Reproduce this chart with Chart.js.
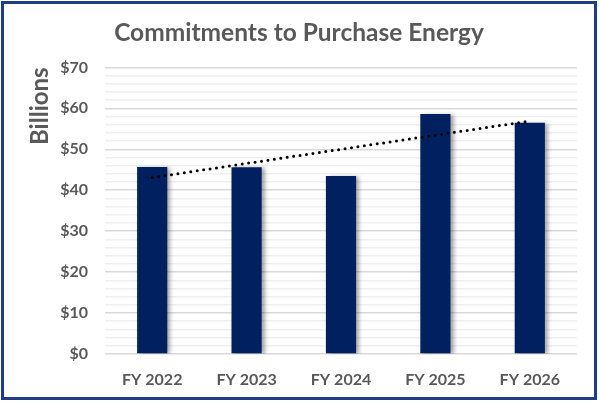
<!DOCTYPE html>
<html>
<head>
<meta charset="utf-8">
<script src="https://cdn.jsdelivr.net/npm/chart.js@4"></script>
<style>
    html, body { margin: 0; padding: 0; background: #ffffff; }
    #frame {
        position: absolute; left: 1px; top: 1px;
        width: 596px; height: 399px;
        border: 3px solid #1f3c88; box-sizing: border-box;
        background: #ffffff;
    }
    #box { position: relative; width: 590px; height: 393px; }
</style>
</head>
<body>
<div id="frame"><div id="box"><canvas id="chart0"></canvas></div></div>
<script>
// values, in billions of dollars
var years = ['FY 2022', 'FY 2023', 'FY 2024', 'FY 2025', 'FY 2026'];
var commitments = [45.7, 45.6, 43.5, 58.6, 56.5];
// dotted trend line, only its two ends (first and last year)
var trend = [43.1, null, null, null, 56.9];

var grey = '#595959';

// soft drop shadow under the bars, like the original
var barShadow = {
    id: 'barShadow',
    beforeDatasetDraw: function(chart, args) {
        if (args.meta.type !== 'bar') return;
        var ctx = chart.ctx;
        ctx.save();
        ctx.shadowColor = 'rgba(0,0,0,0.35)';
        ctx.shadowBlur = 4;
        ctx.shadowOffsetX = 3;
        ctx.shadowOffsetY = 1;
    },
    afterDatasetDraw: function(chart, args) {
        if (args.meta.type !== 'bar') return;
        chart.ctx.restore();
    }
};

new Chart(document.getElementById('chart0'), {
    type: 'bar',
    data: {
        labels: years,
        datasets: [{
            type: 'line',
            label: 'Trend',
            data: trend,
            order: 0,
            spanGaps: true,
            borderColor: '#000000',
            borderWidth: 3,
            borderDash: [0, 6.5],
            borderCapStyle: 'round',
            pointRadius: 0,
            fill: false
        }, {
            label: 'Commitments',
            data: commitments,
            order: 1,
            backgroundColor: '#002060',
            borderWidth: 0,
            categoryPercentage: 1,
            barPercentage: 0.32
        }]
    },
    plugins: [barShadow],
    options: {
        responsive: true,
        maintainAspectRatio: false,
        animation: false,
        layout: { padding: 0 },
        plugins: {
            legend: { display: false },
            tooltip: { enabled: false },
            title: {
                display: true,
                text: 'Commitments to Purchase Energy',
                color: grey,
                font: { family: 'Lato', size: 24.5, weight: 'bold' },
                padding: { top: 14, bottom: 20 }
            }
        },
        scales: {
            x: {
                offset: true,
                grid: { display: false, drawTicks: false },
                border: { display: false },
                ticks: {
                    color: grey,
                    padding: 16,
                    font: { family: 'Lato', size: 16, weight: 'bold' }
                },
                afterFit: function(scale) { scale.height = 43; }
            },
            y: {
                min: 0,
                max: 70,
                border: { display: false },
                grid: {
                    drawTicks: false,
                    lineWidth: 1.5,
                    color: function(c) {
                        return c.tick && c.tick.value % 10 === 0 ? '#d9d9d9' : '#f0f0f0';
                    }
                },
                ticks: {
                    stepSize: 2,
                    color: grey,
                    padding: 17,
                    autoSkip: false,
                    font: { family: 'Lato', size: 16, weight: 'bold' },
                    callback: function(v) { return v % 10 === 0 ? '$' + v : ''; }
                },
                title: {
                    display: true,
                    text: 'Billions',
                    align: 'end',
                    color: grey,
                    font: { family: 'Lato', size: 24, weight: 'bold' },
                    padding: { top: 22, bottom: 0 }
                },
                afterFit: function(scale) { scale.width = 101; }
            },
            // empty strip on the right so the plot stops short of the frame
            yRight: {
                position: 'right',
                min: 0,
                max: 70,
                grid: { display: false, drawTicks: false },
                border: { display: false },
                ticks: { display: false },
                afterFit: function(scale) { scale.width = 17; }
            }
        }
    }
});
</script>
</body>
</html>
